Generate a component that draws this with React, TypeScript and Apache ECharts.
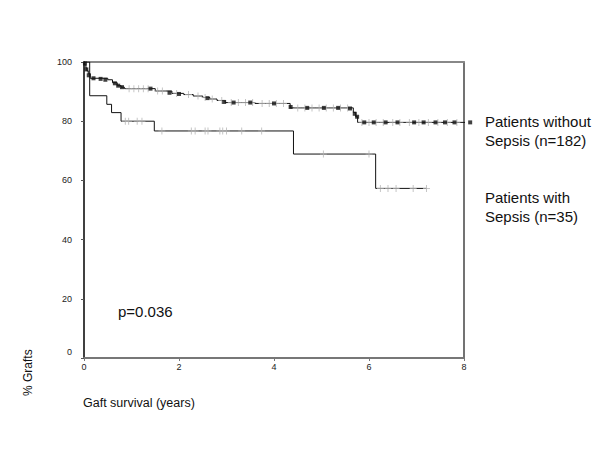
import React, { useEffect, useRef } from "react";
import * as echarts from "echarts";

// Kaplan-Meier step points: patients without sepsis (n=182)
const withoutT = [0, 0.02, 0.04, 0.06, 0.09, 0.13, 0.5, 0.6, 0.7, 0.78, 0.85, 1.5, 1.85, 2.1, 2.3, 2.5, 2.65, 2.8, 2.97, 3.6, 4.34, 5.67, 5.72, 5.76, 8.13];
const withoutS = [100, 99, 98, 97, 96, 94.5, 94, 93, 92, 91.5, 91, 90.2, 89.4, 89, 88.5, 88, 87.5, 87, 86.3, 86, 84.5, 83, 81.5, 79.6, 79.6];

// censor marks (gray crosses) on the without-sepsis curve
const withoutCrossT = [0.95, 1.05, 1.15, 1.25, 1.35, 1.55, 1.65, 1.95, 2.2, 2.4, 2.55, 2.7, 2.9, 3.1, 3.25, 3.4, 3.55, 3.75, 3.9, 4.05, 4.2, 4.5, 4.65, 4.8, 4.95, 5.1, 5.25, 5.4, 5.55, 5.85, 6.0, 6.15, 6.3, 6.5, 6.65, 6.85, 7.05, 7.25, 7.45, 7.65, 7.85];
const withoutCrossS = [91, 91, 91, 91, 91, 90.2, 90.2, 89.4, 89, 88.5, 88, 87.5, 87, 86.3, 86.3, 86.3, 86.3, 86, 86, 86, 86, 84.5, 84.5, 84.5, 84.5, 84.5, 84.5, 84.5, 84.5, 79.6, 79.6, 79.6, 79.6, 79.6, 79.6, 79.6, 79.6, 79.6, 79.6, 79.6, 79.6];

// black square marks on the without-sepsis curve
const withoutSqT = [0.02, 0.05, 0.1, 0.2, 0.35, 0.45, 0.65, 0.72, 0.8, 1.4, 1.8, 2.0, 2.6, 2.95, 3.15, 3.5, 4.0, 4.35, 4.7, 5.05, 5.35, 5.6, 5.7, 5.75, 5.9, 6.1, 6.35, 6.6, 6.95, 7.15, 7.4, 7.6, 7.8, 8.13];
const withoutSqS = [99.5, 97.5, 95.5, 94.5, 94.3, 94, 92.8, 92, 91.5, 91, 89.6, 89.2, 87.8, 86.5, 86.3, 86.3, 86, 84.8, 84.5, 84.5, 84.5, 84.3, 82.5, 81.5, 79.6, 79.6, 79.6, 79.6, 79.6, 79.6, 79.6, 79.6, 79.6, 79.6];

// Kaplan-Meier step points: patients with sepsis (n=35)
const withT = [0, 0.12, 0.48, 0.58, 0.78, 1.48, 4.41, 6.14, 7.21];
const withS = [100, 88.6, 85.7, 82.9, 80, 76.7, 68.9, 57.3, 57.3];

// censor marks on the with-sepsis curve
const withCrossT = [0.87, 0.94, 1.12, 1.22, 1.64, 2.26, 2.34, 2.55, 2.61, 2.86, 2.92, 3.0, 3.32, 3.74, 5.04, 6.0, 6.24, 6.4, 6.57, 6.93, 7.21];
const withCrossS = [80, 80, 80, 80, 76.7, 76.7, 76.7, 76.7, 76.7, 76.7, 76.7, 76.7, 76.7, 76.7, 68.9, 68.9, 57.3, 57.3, 57.3, 57.3, 57.3];

const yTicks = [0, 20, 40, 60, 80, 100];
const xTicks = [0, 2, 4, 6, 8];

const CROSS = "path://M4.3,0H5.7V10H4.3ZM0,4.3H10V5.7H0Z";
const FONT = "Liberation Sans, Arial, sans-serif";

const zip = (a: number[], b: number[]) => a.map((v, i) => [v, b[i]]);

export default function App() {
  const ref = useRef<HTMLDivElement>(null);
  useEffect(() => {
    if (!ref.current) return;
    const chart = echarts.init(ref.current, undefined, { renderer: "svg" });
    chart.setOption({
      animation: false,
      backgroundColor: "#ffffff",
      grid: { left: 84, right: 136, top: 62, bottom: 92 },
      xAxis: [
        {
          type: "value",
          min: 0,
          max: 8,
          interval: 2,
          axisLine: { show: true, lineStyle: { color: "#777", width: 2 } },
          axisTick: { show: true, length: 3, lineStyle: { color: "#777" } },
          axisLabel: { color: "#222", fontSize: 9, fontFamily: FONT, margin: 4, formatter: (v: number) => (xTicks.includes(v) ? String(v) : "") },
          splitLine: { show: false },
        },
        {
          type: "value",
          position: "top",
          min: 0,
          max: 8,
          axisLine: { show: true, onZero: false, lineStyle: { color: "#888", width: 2 } },
          axisTick: { show: false },
          axisLabel: { show: false },
          splitLine: { show: false },
        },
      ],
      yAxis: [
        {
          type: "value",
          min: 0,
          max: 100,
          interval: 20,
          axisLine: { show: true, lineStyle: { color: "#000", width: 1.5 } },
          axisTick: { show: true, length: 3, lineStyle: { color: "#555" } },
          axisLabel: {
            color: "#222",
            fontSize: 9,
            fontFamily: FONT,
            margin: 12,
            formatter: (v: number) => (v === 0 ? "{z|0}" : yTicks.includes(v) ? String(v) : ""),
            rich: { z: { fontSize: 9, fontFamily: FONT, color: "#222", padding: [0, 0, 13, 0] } },
          },
          splitLine: { show: false },
        },
        {
          type: "value",
          position: "right",
          min: 0,
          max: 100,
          axisLine: { show: true, onZero: false, lineStyle: { color: "#444", width: 1.5 } },
          axisTick: { show: false },
          axisLabel: { show: false },
          splitLine: { show: false },
        },
      ],
      series: [
        {
          type: "line",
          step: "end",
          data: zip(withT, withS),
          showSymbol: false,
          lineStyle: { color: "#111", width: 1 },
          z: 2,
        },
        {
          type: "line",
          step: "end",
          data: zip(withoutT, withoutS),
          showSymbol: false,
          clip: false,
          lineStyle: { color: "#111", width: 1 },
          z: 2,
        },
        {
          type: "scatter",
          data: zip(withCrossT, withCrossS),
          symbol: CROSS,
          symbolSize: 7,
          itemStyle: { color: "#b5b5b5" },
          z: 3,
        },
        {
          type: "scatter",
          data: zip(withoutCrossT, withoutCrossS),
          symbol: CROSS,
          symbolSize: 7,
          itemStyle: { color: "#b5b5b5" },
          z: 3,
        },
        {
          type: "scatter",
          data: zip(withoutSqT, withoutSqS),
          symbol: "rect",
          symbolSize: 4,
          clip: false,
          itemStyle: { color: "#111" },
          z: 4,
        },
      ],
      graphic: [
        { type: "text", left: 118, top: 304, style: { text: "p=0.036", font: `15px ${FONT}`, fill: "#111" } },
        { type: "text", left: 83, top: 396, style: { text: "Gaft survival (years)", font: `12.5px ${FONT}`, fill: "#111" } },
        {
          type: "text",
          x: 22,
          y: 396,
          rotation: Math.PI / 2,
          style: { text: "% Grafts", font: `12px ${FONT}`, fill: "#111", textAlign: "left", textVerticalAlign: "top" },
        },
        { type: "text", left: 485, top: 112, style: { text: "Patients without\nSepsis (n=182)", font: `15px ${FONT}`, lineHeight: 19, fill: "#111" } },
        { type: "text", left: 485, top: 188, style: { text: "Patients with\nSepsis (n=35)", font: `15px ${FONT}`, lineHeight: 19, fill: "#111" } },
      ],
    });
    return () => chart.dispose();
  }, []);
  return <div ref={ref} style={{ position: "absolute", left: 0, top: 0, width: 600, height: 450 }} />;
}
